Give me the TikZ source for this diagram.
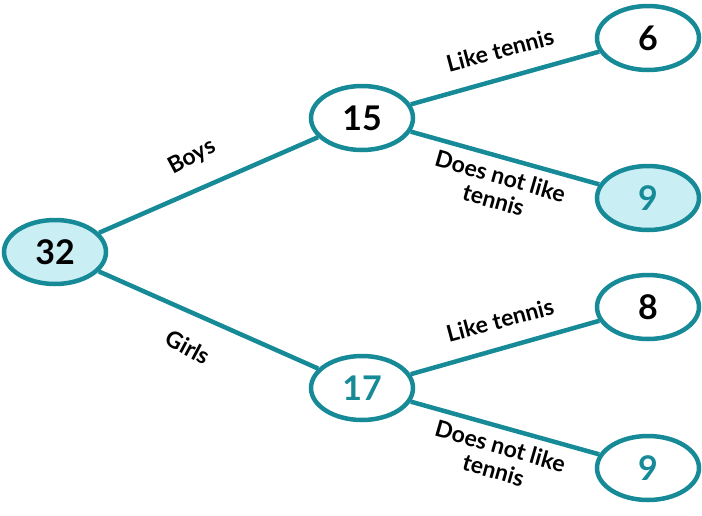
\documentclass[tikz,border=0pt]{standalone}
\usepackage{fontspec}
\setmainfont{Lato}
\usetikzlibrary{shapes.geometric}
\definecolor{teal}{HTML}{178A98}
\definecolor{pale}{HTML}{C9EEF3}
\tikzset{
  count/.style={ellipse,draw=teal,line width=4.5pt,fill=white,minimum width=102pt,
    minimum height=64pt,inner sep=0pt,font=\fontsize{34}{34}\selectfont\bfseries},
  hot/.style={fill=pale},
  tealtext/.style={text=teal},
  branch/.style={draw=teal,line width=4.5pt},
  lbl/.style={font=\fontsize{23}{25}\selectfont\bfseries,align=center,inner sep=1pt}
}
\begin{document}
\begin{tikzpicture}[x=1pt,y=-1pt]
\useasboundingbox (0,0) rectangle (702,515);
% nodes
\node[count,hot] (all) at (55,252) {32};
\node[count] (boys) at (362,118) {15};
\node[count,tealtext] (girls) at (362,388) {17};
\node[count] (bt) at (648,38) {6};
\node[count,hot,tealtext] (bn) at (648,198) {9};
\node[count] (gt) at (648,307) {8};
\node[count,tealtext] (gn) at (648,468) {9};
% branches
\draw[branch] (all) -- (boys);
\draw[branch] (all) -- (girls);
\draw[branch] (boys) -- (bt);
\draw[branch] (boys) -- (bn);
\draw[branch] (girls) -- (gt);
\draw[branch] (girls) -- (gn);
% labels
\node[lbl,rotate=28] (lb) at (192,157) {Boys};
\node[lbl,rotate=-28] (lg) at (188,347) {Girls};
\node[lbl,rotate=15] (l1) at (500,50) {Like tennis};
\node[lbl,rotate=-16] (l2) at (497,188) {Does not like\\tennis};
\node[lbl,rotate=15] (l3) at (500,320) {Like tennis};
\node[lbl,rotate=-16] (l4) at (497,458) {Does not like\\tennis};
\end{tikzpicture}
\end{document}
